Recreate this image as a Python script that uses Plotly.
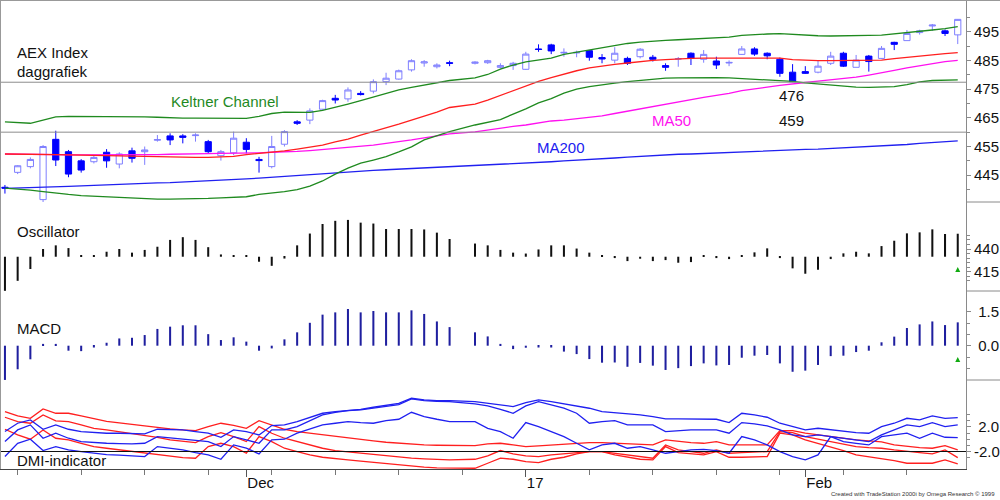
import numpy as np
import pandas as pd
import plotly.graph_objects as go

# ---------------- data ----------------
FIRST_DAY = "2016-11-04"
LAST_DAY = "2017-02-17"
HOLIDAYS = ["2016-12-26"]
MONTH_TICKS = ["2016-12-01", "2017-01-02", "2017-02-01"]
MONTH_LABELS = ["Dec", "17", "Feb"]

OPEN = [440.8, 446.0, 448.0, 436.5, 457.5, 453.2, 450.0, 449.7, 453.0, 448.9, 453.5, 453.2, 457.2, 458.7, 458.7, 458.8,
        456.7, 451.8, 452.8, 456.5, 450.5, 448.0, 455.8, 463.6, 464.2, 468.0, 471.8, 471.6, 473.5, 474.3, 477.6, 478.5,
        481.7, 484.1, 482.8, 484.2, 484.0, 484.2, 482.6, 483.2, 481.9, 489.0, 490.4, 487.6, 487.6, 488.4, 486.0, 485.1,
        485.7, 486.3, 486.1, 483.2, 485.5, 487.5, 485.4, 484.8, 484.1, 487.1, 489.0, 487.5, 485.4, 480.9, 481.1, 480.9,
        484.0, 487.5, 482.6, 486.5, 485.7, 491.3, 491.9, 494.7, 497.0, 495.3, 493.9]
HIGH = [441.6, 448.5, 451.2, 455.5, 460.5, 453.8, 450.6, 452.0, 454.1, 453.0, 454.6, 455.0, 459.0, 459.6, 459.3, 459.6,
        457.3, 453.8, 460.2, 457.9, 451.4, 458.7, 460.7, 464.2, 468.3, 471.3, 473.0, 475.6, 474.3, 478.4, 480.7, 481.8,
        485.4, 485.1, 484.0, 484.9, 484.7, 485.2, 484.0, 484.5, 488.0, 490.6, 490.8, 489.2, 488.4, 488.6, 487.2, 489.6,
        486.3, 489.3, 486.9, 484.0, 486.2, 487.8, 488.6, 486.3, 485.0, 490.0, 489.6, 487.8, 486.0, 483.7, 483.0, 484.9,
        488.0, 488.0, 486.9, 486.9, 490.0, 491.5, 495.6, 495.7, 497.7, 495.8, 499.4]
LOW = [438.6, 445.4, 447.4, 435.0, 448.2, 444.3, 445.9, 449.1, 447.6, 447.4, 449.4, 448.6, 456.7, 455.5, 456.1, 456.7,
       452.4, 450.1, 452.0, 452.6, 445.9, 447.4, 455.0, 462.5, 462.8, 467.8, 470.0, 470.6, 472.8, 473.5, 476.4, 478.3,
       481.1, 482.8, 482.2, 483.0, 483.6, 483.8, 482.2, 481.7, 481.7, 488.0, 487.2, 486.3, 486.1, 484.9, 484.0, 484.0,
       483.4, 485.7, 484.6, 481.4, 482.8, 483.4, 484.2, 482.0, 483.0, 486.9, 486.6, 485.4, 479.3, 477.4, 480.3, 480.5,
       483.4, 482.7, 482.6, 481.1, 485.5, 488.6, 491.9, 494.0, 495.3, 493.5, 490.7]
CLOSE = [440.5, 448.3, 450.5, 455.0, 450.3, 445.4, 446.8, 451.2, 450.0, 452.4, 450.9, 453.8, 457.4, 457.3, 458.2, 459.0,
         453.2, 453.2, 457.9, 454.0, 450.1, 455.0, 460.2, 463.1, 467.4, 471.0, 471.2, 474.7, 473.1, 477.6, 478.8, 481.4,
         484.9, 484.5, 483.4, 484.0, 484.4, 484.9, 483.2, 484.0, 487.2, 488.8, 488.3, 487.8, 487.8, 486.1, 485.5, 487.5,
         484.0, 488.9, 485.4, 482.6, 485.6, 485.7, 487.1, 483.4, 484.3, 489.0, 487.2, 486.6, 480.5, 477.6, 480.5, 483.0,
         486.5, 483.0, 485.1, 484.6, 489.2, 490.6, 494.4, 495.3, 497.3, 494.4, 499.3]

KELTNER_UP = [463.6, 463.4, 463.1, 464.2, 465.3, 465.5, 465.5, 465.5, 465.5, 465.5, 465.4, 465.3, 465.2, 465.0, 464.9,
              464.9, 464.9, 464.9, 464.8, 464.8, 465.5, 466.5, 467.0, 466.9, 466.9, 467.6, 468.6, 469.8, 471.0, 472.3,
              473.5, 474.7, 475.6, 476.4, 477.3, 478.0, 478.9, 480.1, 482.0, 483.4, 484.5, 485.1, 485.8, 487.1, 487.9,
              488.6, 489.5, 490.2, 490.9, 491.4, 491.8, 492.0, 492.2, 492.4, 492.5, 492.7, 493.1, 493.7, 494.0, 494.2,
              494.3, 494.0, 493.8, 493.6, 493.5, 493.5, 493.6, 493.7, 493.8, 494.2, 494.6, 495.0, 495.6, 496.1, 496.8]
KELTNER_MID = [452.4, 452.4, 452.4, 452.3, 452.2, 452.1, 452.0, 451.9, 451.8, 451.7, 451.6, 451.5, 451.3, 451.2, 451.2,
               451.2, 451.2, 451.3, 451.6, 452.2, 452.6, 453.1, 453.5, 454.1, 454.7, 455.5, 456.6, 457.6, 459.0, 460.2,
               461.6, 462.8, 464.2, 465.5, 467.0, 468.6, 469.8, 471.2, 472.8, 474.5, 476.2, 477.7, 479.0, 480.3, 481.4,
               482.4, 483.1, 483.6, 484.1, 484.6, 485.0, 485.3, 485.6, 485.7, 485.8, 485.8, 485.8, 485.9, 486.0, 486.0,
               485.8, 485.3, 485.0, 484.9, 484.9, 484.9, 484.9, 485.0, 485.1, 485.6, 486.1, 486.5, 487.0, 487.4, 487.7]
KELTNER_LO = [440.5, 440.2, 439.8, 439.3, 438.7, 438.3, 437.9, 437.7, 437.4, 437.2, 437.0, 436.8, 436.7, 436.7, 436.7,
              436.7, 436.9, 437.1, 437.3, 437.5, 438.3, 438.7, 439.3, 440.0, 441.2, 443.0, 445.4, 447.5, 449.2, 450.3,
              451.5, 453.1, 454.9, 457.3, 458.8, 460.2, 462.5, 463.5, 464.4, 466.3, 468.1, 470.2, 471.7, 473.6, 475.0,
              475.9, 476.6, 477.1, 477.6, 478.0, 478.5, 478.8, 478.9, 479.0, 479.1, 479.0, 478.9, 478.7, 478.4, 478.3,
              478.1, 477.7, 477.2, 476.8, 476.3, 475.9, 475.7, 475.6, 475.7, 475.9, 476.6, 477.5, 478.0, 478.2, 478.2]
MA50 = [452.4, 452.4, 452.3, 452.3, 452.2, 452.1, 452.1, 452.0, 452.0, 452.0, 452.1, 452.1, 452.2, 452.3, 452.3, 452.4,
        452.5, 452.6, 452.6, 452.7, 452.8, 453.0, 453.1, 453.3, 453.6, 454.0, 454.4, 454.7, 455.0, 455.5, 456.1, 456.6,
        457.3, 458.0, 458.8, 459.4, 460.1, 460.8, 461.5, 462.0, 462.5, 463.2, 463.9, 464.2, 464.7, 465.2, 465.7, 466.5,
        467.3, 468.1, 468.9, 469.8, 470.7, 471.4, 472.1, 472.8, 473.5, 474.5, 475.2, 475.7, 476.3, 476.9, 477.3, 477.8,
        478.2, 478.6, 479.2, 479.9, 480.6, 481.5, 482.4, 483.2, 483.9, 484.6, 485.0]
MA200 = [440.4, 440.5, 440.7, 440.8, 441.0, 441.1, 441.3, 441.5, 441.6, 441.8, 441.9, 442.1, 442.3, 442.4, 442.6, 442.7,
         442.9, 443.2, 443.4, 443.7, 444.0, 444.3, 444.6, 444.9, 445.3, 445.7, 446.0, 446.3, 446.5, 446.7, 446.9, 447.1,
         447.3, 447.5, 447.7, 447.9, 448.3, 448.6, 448.8, 449.0, 449.3, 449.5, 449.7, 450.0, 450.2, 450.5, 450.8, 451.0,
         451.3, 451.6, 451.9, 452.1, 452.3, 452.4, 452.6, 452.8, 453.0, 453.1, 453.3, 453.5, 453.6, 453.8, 454.0, 454.1,
         454.3, 454.6, 454.8, 455.0, 455.2, 455.5, 455.7, 456.1, 456.4, 456.8, 457.0]
SUPPORT_LEVELS = [477.4, 460.0]
SUPPORT_LABELS = ["476", "459"]

OSC_BASE = 431.5
OSCILLATOR = [394, 405, 418, 440, 444, 441, 433, 433, 437, 440, 436, 439, 442.5, 450, 453, 450, 442, 434, 433, 433,
              426, 421.5, 429.5, 444, 457, 467.5, 471, 472, 469, 468, 462, 462, 462, 461.5, 458, 451, 446, 444, 439,
              436, 435, 439.5, 444, 444, 440.5, 436, 433, 430, 426.7, 429.3, 426.7, 427.8, 424.9, 425.6, 433, 430,
              428.9, 433, 436.3, 440.7, 430, 418.7, 412.8, 417.2, 428.9, 435.2, 437, 435.2, 443.2, 449.1, 457.2,
              458.3, 461.6, 456.5, 456.8]
OSC_MARK = 420.2
MACD = [-1.51, -1.04, -0.60, 0.08, 0.08, -0.22, -0.24, -0.08, 0.13, 0.32, 0.35, 0.47, 0.74, 0.84, 0.90, 0.90, 0.51,
        0.25, 0.37, 0.18, -0.22, -0.12, 0.28, 0.59, 1.01, 1.37, 1.47, 1.62, 1.47, 1.53, 1.47, 1.47, 1.56, 1.40, 1.07,
        0.82, 0.59, 0.41, 0.08, -0.15, -0.09, -0.08, -0.08, -0.26, -0.37, -0.59, -0.75, -0.74, -0.93, -0.76, -0.88,
        -1.07, -0.99, -0.90, -0.78, -0.87, -0.85, -0.53, -0.44, -0.41, -0.78, -1.15, -1.10, -0.85, -0.46, -0.44,
        -0.28, -0.22, 0.15, 0.40, 0.78, 0.94, 1.07, 0.91, 1.03]
MACD_MARK = -0.5

DMI_RED_1 = [4.51, 3.80, 3.42, 4.95, 4.24, 4.24, 3.80, 3.32, 2.93, 2.66, 2.39, 2.12, 1.90, 1.68, 1.52, 1.41, 2.06, 2.61,
             2.28, 1.79, 3.04, 2.34, 1.63, 1.25, 0.98, 0.70, 0.43, 0.16, -0.11, -0.28, -0.49, -0.66, -0.76, -0.93,
             -0.98, -1.04, -1.04, -0.76, -0.66, -0.93, -1.20, -1.09, -0.93, -0.82, -0.66, -0.55, -0.55, -0.66, -0.76,
             -0.87, -0.93, -0.11, -0.38, -0.55, -0.66, -0.38, -0.93, -0.93, -0.93, -0.93, 1.41, 1.41, 0.98, 0.70,
             0.43, 0.16, -0.11, -0.28, -0.44, -0.93, -1.20, -1.36, -1.47, -1.04, -1.74]
DMI_RED_2 = [3.59, 2.88, 2.61, 3.97, 2.99, 2.88, 2.34, 1.79, 1.52, 1.25, 0.98, 0.70, 0.32, -0.11, -0.38, -0.55, 0.43,
             1.08, 0.43, -0.38, 2.06, 0.98, 0.16, -0.38, -0.93, -1.47, -1.85, -2.07, -2.29, -2.51, -2.72, -2.94,
             -3.10, -3.21, -3.32, -3.38, -3.27, -2.72, -1.85, -2.40, -2.72, -2.83, -2.56, -2.40, -2.18, -2.02, -2.02,
             -2.29, -2.56, -2.83, -3.10, -0.93, -1.74, -2.02, -2.29, -1.74, -2.29, -2.18, -2.07, -2.02, 1.25, 1.08,
             0.43, 0.00, -0.38, -0.76, -1.20, -1.36, -1.47, -1.74, -2.02, -2.18, -2.40, -1.74, -3.00]
DMI_RED_3 = [1.63, 0.70, 0.00, 1.52, 0.16, -0.11, -0.66, -1.20, -1.47, -1.74, -2.02, -2.18, -2.51, -2.83, -3.00, -3.10,
             -1.20, -0.66, -1.20, -2.29, 0.43, -0.38, -1.47, -2.02, -2.56, -2.94, -3.21, -3.38, -3.59, -3.81, -4.03,
             -4.19, -4.36, -4.57, -4.68, -4.74, -4.74, -3.92, -3.10, -3.27, -3.65, -3.81, -3.27, -2.94, -2.40, -2.02,
             -2.02, -2.56, -2.94, -3.27, -3.38, -1.20, -2.18, -2.40, -2.56, -2.02, -2.94, -2.94, -2.94, -2.83, 0.98,
             0.70, -0.11, -0.66, -1.20, -1.85, -2.56, -2.83, -3.10, -3.48, -3.92, -3.92, -3.92, -3.38, -4.03]
DMI_BLUE_1 = [1.25, 2.61, 3.15, 1.63, 2.34, 1.63, 1.25, 1.08, 0.98, 0.98, 0.92, 0.87, 1.63, 1.57, 1.52, 1.25, 0.98,
              0.32, 1.52, 1.25, 0.70, 2.23, 2.34, 2.88, 3.59, 4.24, 4.51, 4.68, 4.89, 5.22, 5.60, 5.87, 6.69, 6.42,
              6.31, 6.31, 6.14, 5.87, 5.71, 5.33, 5.98, 6.42, 6.14, 5.76, 5.44, 5.06, 4.51, 4.35, 4.24, 3.97, 3.70,
              3.32, 3.32, 3.32, 3.32, 3.26, 2.72, 4.24, 3.97, 3.59, 2.61, 2.06, 1.52, 1.79, 1.52, 1.25, 1.08, 0.98,
              2.06, 2.61, 3.42, 3.15, 3.80, 3.42, 3.53]
DMI_BLUE_2 = [-0.38, 1.52, 2.34, 0.16, 0.98, 0.16, -0.38, -0.55, -0.66, -0.71, -0.76, -0.66, 0.43, 0.21, 0.00, -0.22,
              -0.38, -1.20, 0.43, -0.11, -0.66, 1.52, 1.52, 2.06, 3.04, 3.97, 4.40, 4.68, 4.78, 5.06, 5.33, 5.65,
              6.58, 6.31, 6.20, 6.14, 5.76, 5.44, 4.89, 4.24, 5.44, 6.14, 5.60, 5.06, 4.24, 2.61, 2.88, 3.04, 2.34,
              2.34, 2.34, 1.25, 1.41, 1.52, 1.52, 1.52, 0.98, 2.72, 2.50, 2.17, 1.52, 0.70, 0.43, 0.70, 0.43, 0.16,
              -0.11, -0.38, 0.70, 1.52, 2.34, 2.06, 2.72, 2.06, 2.34]
DMI_BLUE_3 = [-2.83, -0.66, 0.00, -1.85, -1.20, -1.74, -2.02, -2.29, -2.51, -2.61, -2.72, -2.83, -1.20, -1.47, -1.74,
              -2.18, -2.56, -3.27, -0.93, -1.47, -2.40, -0.11, 0.00, 0.98, 1.63, 2.34, 2.61, 2.88, 2.72, 2.61, 3.04,
              3.26, 4.40, 3.70, 3.26, 2.88, 2.88, 1.79, 1.25, 0.16, 2.72, 2.06, 1.25, 0.43, -0.66, -1.74, -0.93,
              -0.66, -1.47, -1.20, -1.74, -2.29, -2.02, -1.74, -1.64, -1.85, -2.29, 0.43, -0.11, -0.93, -2.02, -2.83,
              -3.38, -2.56, 0.43, -0.38, -0.66, -0.93, 0.43, 0.70, 0.98, 0.16, 0.98, 0.32, 0.27]
DMI_REF = -2.0

# ---------------- x positions (trading-day slots, holiday leaves a gap) ----------------
start = np.datetime64(FIRST_DAY)
days = pd.bdate_range(FIRST_DAY, LAST_DAY)
days = days[~days.isin(pd.to_datetime(HOLIDAYS))]


def slot(dates):
    return np.busday_count(start, np.asarray(dates, dtype="datetime64[D]")).tolist()


X = slot(days.values)
MONTH_X = slot(pd.to_datetime(MONTH_TICKS).values)
WEEK_X = slot(pd.date_range(FIRST_DAY, LAST_DAY, freq="W-MON").values)

# ---------------- layout constants ----------------
PLOT_W, PLOT_H = 968, 469
EDGES = [0, 202, 291, 380, 469]


def dom(i):
    return [1 - EDGES[i + 1] / PLOT_H, 1 - EDGES[i] / PLOT_H]


FONT = "Liberation Sans, Arial, sans-serif"
GREEN = "#1f8a1f"
RED = "#ff1f1f"
MAGENTA = "#ff10f0"
BLUE = "#2020f0"
NAVY = "#1f1f9f"
AXIS_GRAY = "#8a8a8a"

fig = go.Figure()

# price panel lines
for vals, col in [(MA200, BLUE), (MA50, MAGENTA), (KELTNER_LO, GREEN), (KELTNER_UP, GREEN), (KELTNER_MID, RED)]:
    fig.add_trace(go.Scatter(x=X, y=vals, mode="lines", line=dict(color=col, width=1.3),
                             xaxis="x", yaxis="y", hoverinfo="skip"))

fig.add_trace(go.Candlestick(
    x=X, open=OPEN, high=HIGH, low=LOW, close=CLOSE, xaxis="x", yaxis="y",
    increasing=dict(line=dict(color="#7f7fff", width=1), fillcolor="white"),
    decreasing=dict(line=dict(color="#0000ff", width=1), fillcolor="#0000ff"),
    whiskerwidth=0, hoverinfo="skip"))

# oscillator
fig.add_trace(go.Bar(x=X, y=[v - OSC_BASE for v in OSCILLATOR], base=OSC_BASE, width=0.16,
                     marker=dict(color="#111111", line=dict(width=0)), xaxis="x", yaxis="y2", hoverinfo="skip"))
fig.add_trace(go.Scatter(x=[X[-1]], y=[OSC_MARK], mode="markers",
                         marker=dict(symbol="arrow-up", size=5, color="#11aa11"), xaxis="x", yaxis="y2"))
# MACD
fig.add_trace(go.Bar(x=X, y=MACD, base=0, width=0.16,
                     marker=dict(color=NAVY, line=dict(width=0)), xaxis="x", yaxis="y3", hoverinfo="skip"))
fig.add_trace(go.Scatter(x=[X[-1]], y=[MACD_MARK], mode="markers",
                         marker=dict(symbol="arrow-up", size=5, color="#11aa11"), xaxis="x", yaxis="y3"))
# DMI
for vals, col in [(DMI_RED_1, RED), (DMI_RED_2, RED), (DMI_RED_3, RED),
                  (DMI_BLUE_1, BLUE), (DMI_BLUE_2, BLUE), (DMI_BLUE_3, BLUE)]:
    fig.add_trace(go.Scatter(x=X, y=vals, mode="lines", line=dict(color=col, width=1.3),
                             xaxis="x", yaxis="y4", hoverinfo="skip"))


def yax(i, rng, tickvals, ticktext, minor_vals):
    return dict(domain=dom(i), range=rng, side="right", anchor="x", showgrid=False, zeroline=False,
                showline=True, linecolor=AXIS_GRAY, linewidth=1, ticks="outside", ticklen=4,
                tickcolor=AXIS_GRAY, tickvals=tickvals, ticktext=ticktext,
                tickfont=dict(size=15, color="#111", family=FONT), fixedrange=True,
                minor=dict(tickvals=minor_vals, ticks="outside", ticklen=3, tickcolor=AXIS_GRAY))


NB = "\u00a0"
fig.update_layout(
    width=1000, height=500,
    margin=dict(l=0, r=1000 - PLOT_W, t=0, b=500 - PLOT_H),
    paper_bgcolor="white", plot_bgcolor="white",
    showlegend=False, hovermode=False, barmode="overlay",
    font=dict(family=FONT, size=15, color="#111"),
    xaxis=dict(domain=[0, 1], range=[-0.39, 75.65], anchor="y4", showgrid=False, zeroline=False,
               showline=True, linecolor="#444", linewidth=1, ticks="outside", ticklen=7, tickcolor="#555",
               tickvals=MONTH_X, ticktext=MONTH_LABELS, ticklabelposition="outside right",
               tickfont=dict(size=15, color="#111", family=FONT), fixedrange=True,
               rangeslider=dict(visible=False),
               minor=dict(tickvals=WEEK_X, ticks="outside", ticklen=5, tickcolor="#777")),
    yaxis=yax(0, [435.67, 506.05], [445, 455, 465, 475, 485, 495],
              ["445", "455", "465", "475", "485", "495"], [440, 450, 460, 470, 480, 490, 500]),
    yaxis2=yax(1, [393.8, 491.7], [415, 440], ["415", "440"], [405, 410, 420, 425, 430, 435, 445, 450, 455]),
    yaxis3=yax(2, [-1.513, 2.413], [0, 1.5], [NB + "0.0", NB + "1.5"], [-1.0, -0.5, 0.5, 1.0]),
    yaxis4=yax(3, [-4.86, 9.67], [-2, 2], ["-2.0", NB + "2.0"], [-3, -1, 0, 1, 3, 4]),
)

shapes = []
for lvl in SUPPORT_LEVELS:
    shapes.append(dict(type="line", xref="paper", x0=0, x1=1, yref="y", y0=lvl, y1=lvl,
                       line=dict(color="#8c8c8c", width=1)))
shapes.append(dict(type="line", xref="paper", x0=0, x1=1, yref="y4", y0=DMI_REF, y1=DMI_REF,
                   line=dict(color="#111", width=1.2)))
for e in EDGES[1:4]:
    yy = 1 - e / PLOT_H
    shapes.append(dict(type="line", xref="paper", x0=1, x1=1.05, yref="paper", y0=yy, y1=yy,
                       line=dict(color=AXIS_GRAY, width=1)))
shapes.append(dict(type="line", xref="paper", x0=0, x1=1.05, yref="paper", y0=1, y1=1,
                   line=dict(color="#999", width=2)))
shapes.append(dict(type="line", xref="paper", x0=0, x1=0, yref="paper", y0=0, y1=1,
                   line=dict(color="#999", width=2)))
fig.update_layout(shapes=shapes)


def label(text, px, py, color="#111", size=15, anchor="left"):
    fig.add_annotation(text=text, xref="paper", yref="paper", x=px / PLOT_W, y=1 - py / PLOT_H,
                       xanchor=anchor, yanchor="middle", showarrow=False,
                       font=dict(family=FONT, size=size, color=color))


label("AEX Index", 15, 52)
label("daggrafiek", 15, 71)
label("Keltner Channel", 169, 101, GREEN)
label("MA50", 651, 120, MAGENTA)
label("MA200", 536, 148, BLUE)
label(SUPPORT_LABELS[0], 779, 95)
label(SUPPORT_LABELS[1], 779, 120)
label("Oscillator", 15, 231)
label("MACD", 15, 328)
label("DMI-indicator", 15, 460)
label("Created with TradeStation 2000i by Omega Research © 1999", 999, 494, "#333", 6, anchor="right")

fig.write_html("out.html", config={"displayModeBar": False})
